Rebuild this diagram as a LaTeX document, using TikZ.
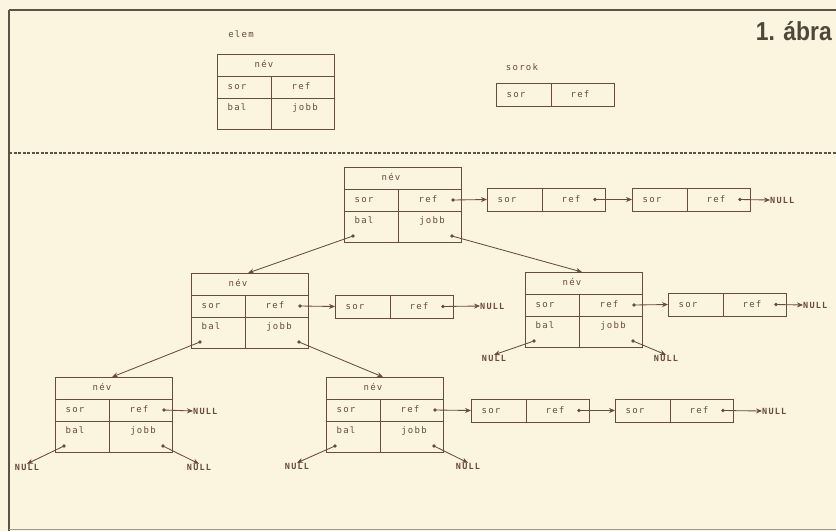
\documentclass[tikz,border=0pt]{standalone}
\usepackage{fontspec}
\usetikzlibrary{arrows.meta}
\newfontfamily\plotfont{DejaVu Sans Mono}[LetterSpace=14]
\newfontfamily\titlefont{Liberation Sans}
\definecolor{bgc}{HTML}{FBF5DF}
\definecolor{linec}{HTML}{6A4C3A}
\definecolor{txtc}{HTML}{6A4A38}
\definecolor{framec}{HTML}{5E5246}
\tikzset{
  box/.style={draw=linec, line width=0.9pt},
  lbl/.style={text=txtc, font=\plotfont\fontsize{9}{10}\selectfont, inner sep=0pt, text height=6pt, text depth=1pt},
  nul/.style={text=txtc, font=\plotfont\fontsize{8.5}{10}\selectfont\bfseries, inner sep=0pt, text height=6pt, text depth=0pt},
  arr/.style={draw=linec, line width=0.85pt, -{Stealth[length=6pt,width=5pt]}},
  dotc/.style={fill=linec},
  elemrec/.pic={
    \draw[box] (0,0) rectangle (117,75);
    \draw[box] (0,22) -- (117,22) (0,44) -- (117,44) (54,22) -- (54,75);
    \node[lbl] (-nev) at (47,11) {név};
    \node[lbl] (-sor) at (20,33) {sor};
    \node[lbl] (-reft) at (84,33) {ref};
    \node[lbl] (-balt) at (20,54) {bal};
    \node[lbl] (-jobbt) at (88,54) {jobb};
    \coordinate (-ref) at (109,33);
    \coordinate (-bal) at (9,69);
    \coordinate (-jobb) at (108,69);
    \coordinate (-in) at (57,0);
  },
  elemdots/.pic={
    \fill[dotc] (109,33) circle (1.8);
    \fill[dotc] (9,69) circle (1.8);
    \fill[dotc] (108,69) circle (1.8);
  },
  sorrec/.pic={
    \draw[box] (0,0) rectangle (118,23);
    \draw[box] (55,0) -- (55,23);
    \node[lbl] (-sor) at (20,11.5) {sor};
    \node[lbl] (-reft) at (84,11.5) {ref};
    \coordinate (-ref) at (108,11.5);
    \coordinate (-w) at (0,11.5);
  },
  sordot/.pic={
    \fill[dotc] (108,11.5) circle (1.8);
  }
}
\begin{document}
\begin{tikzpicture}[x=1pt,y=-1pt]
\useasboundingbox (0,0) rectangle (836,531);
\fill[bgc] (0,0) rectangle (836,531);
% frame
\draw[framec, line width=2pt] (9,10) -- (836,10);
\draw[framec, line width=1.6pt] (9,10) -- (9,531);
\draw[framec!60, line width=0.8pt] (9,529) -- (836,529);
\draw[framec, line width=1.5pt, dash pattern=on 3pt off 1.5pt] (9,153) -- (836,153);
% title
\node[anchor=base east, inner sep=0pt, text=framec!85!black, font=\titlefont\bfseries\fontsize{26}{28}\selectfont] (title) at (832,40) {\scalebox{0.88}[1]{1. ábra}};
% legend
\node[lbl] (elemlbl) at (241,35) {elem};
\pic (E) at (217,54) {elemrec};
\node[lbl] (soroklbl) at (522,68) {sorok};
\pic (SS) at (496,83) {sorrec};
% tree
\pic (R) at (344,167) {elemrec};
\pic (S1) at (487,188) {sorrec};
\pic (S2) at (632,188) {sorrec};
\pic (L) at (191,273) {elemrec};
\pic (S3) at (335,295) {sorrec};
\pic (Rt) at (525,272) {elemrec};
\pic (S4) at (668,293) {sorrec};
\pic (LL) at (55,377) {elemrec};
\pic (LR) at (326,377) {elemrec};
\pic (S5) at (471,399) {sorrec};
\pic (S6) at (615,399) {sorrec};
% dots
\pic (Rd) at (344,167) {elemdots};
\pic (Ld) at (191,273) {elemdots};
\pic (Rtd) at (525,272) {elemdots};
\pic (LLd) at (55,377) {elemdots};
\pic (LRd) at (326,377) {elemdots};
\pic (S1d) at (487,188) {sordot};
\pic (S2d) at (632,188) {sordot};
\pic (S3d) at (335,295) {sordot};
\pic (S4d) at (668,293) {sordot};
\pic (S5d) at (471,399) {sordot};
\pic (S6d) at (615,399) {sordot};
% NULL labels
\node[nul, anchor=west] (n1) at (770,200) {NULL};
\node[nul, anchor=west] (n2) at (480,306) {NULL};
\node[nul, anchor=west] (n3) at (803,305) {NULL};
\node[nul, anchor=west] (n4) at (193,411) {NULL};
\node[nul, anchor=west] (n5) at (762,411) {NULL};
\node[nul] (b1) at (494,358) {NULL};
\node[nul] (j1) at (666,358) {NULL};
\node[nul] (b2) at (27,467) {NULL};
\node[nul] (j2) at (199,467) {NULL};
\node[nul] (b3) at (297,466) {NULL};
\node[nul] (j3) at (468,466) {NULL};
% tree connectors
\draw[arr] (R-bal) -- (L-in);
\draw[arr] (R-jobb) -- (Rt-in);
\draw[arr] (L-bal) -- (LL-in);
\draw[arr] (L-jobb) -- (LR-in);
% list connectors
\draw[arr] (R-ref) -- (S1-w);
\draw[arr] (S1-ref) -- (S2-w);
\draw[arr] (S2-ref) -- (n1.west);
\draw[arr] (L-ref) -- (S3-w);
\draw[arr] (S3-ref) -- (n2.west);
\draw[arr] (Rt-ref) -- (S4-w);
\draw[arr] (S4-ref) -- (n3.west);
\draw[arr] (LL-ref) -- (n4.west);
\draw[arr] (LR-ref) -- (S5-w);
\draw[arr] (S5-ref) -- (S6-w);
\draw[arr] (S6-ref) -- (n5.west);
% NULL children
\draw[arr] (Rt-bal) -- (b1.north);
\draw[arr] (Rt-jobb) -- (j1.north);
\draw[arr] (LL-bal) -- (b2.north);
\draw[arr] (LL-jobb) -- (j2.north);
\draw[arr] (LR-bal) -- (b3.north);
\draw[arr] (LR-jobb) -- (j3.north);
\end{tikzpicture}
\end{document}
